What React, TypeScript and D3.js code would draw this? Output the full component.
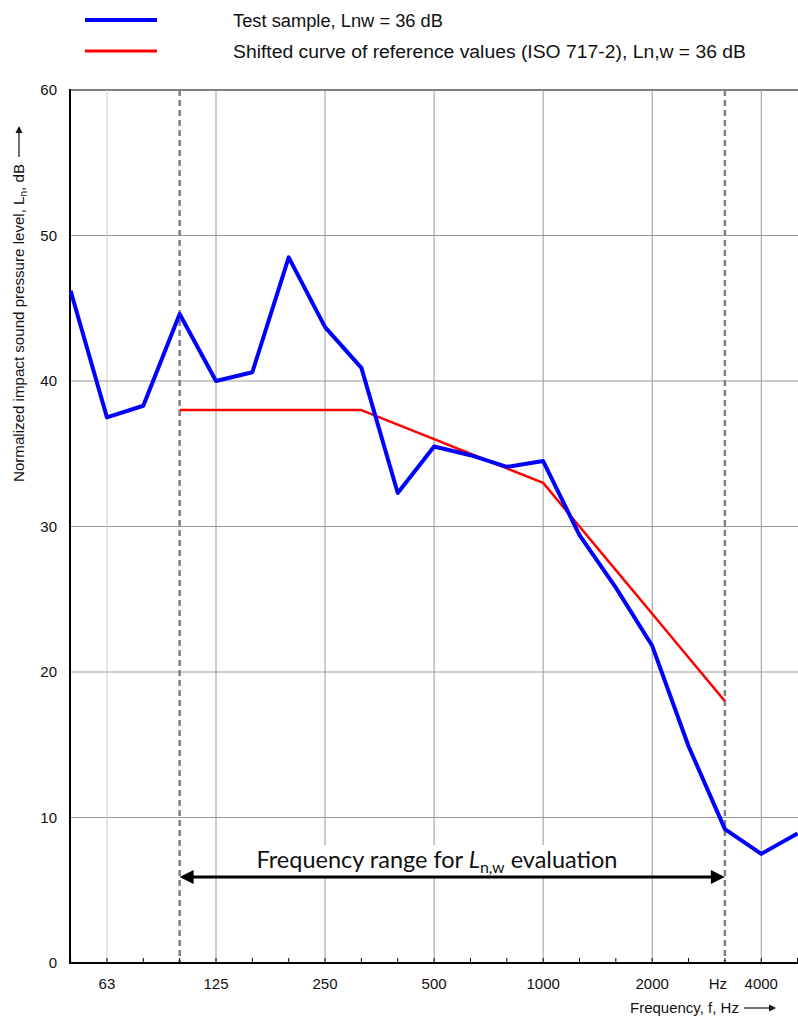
import React from 'react'
import * as d3 from 'd3'

// 1/3 octave bands 50 Hz .. 5000 Hz
const bands = [50, 63, 80, 100, 125, 160, 200, 250, 315, 400, 500, 630, 800, 1000, 1250, 1600, 2000, 2500, 3150, 4000, 5000]
const testSample = [46.2, 37.5, 38.3, 44.6, 40.0, 40.6, 48.5, 43.7, 40.9, 32.3, 35.5, 34.9, 34.1, 34.5, 29.4, 25.8, 21.8, 14.9, 9.2, 7.5, 8.9]
const refBands = [100, 125, 160, 200, 250, 315, 400, 500, 630, 800, 1000, 1250, 1600, 2000, 2500, 3150]
const refShifted = [38, 38, 38, 38, 38, 38, 37, 36, 35, 34, 33, 30, 27, 24, 21, 18]
const xLabels = [
  { band: 63, text: '63' },
  { band: 125, text: '125' },
  { band: 250, text: '250' },
  { band: 500, text: '500' },
  { band: 1000, text: '1000' },
  { band: 2000, text: '2000' },
  { band: 3150, text: 'Hz' },
  { band: 4000, text: '4000' },
]
const gridBands = [63, 125, 250, 500, 1000, 2000, 4000]
const rangeBands = [100, 3150]
const yTicks = [0, 10, 20, 30, 40, 50, 60]

const W = 798
const H = 1017
const font = '"Liberation Sans", Arial, "DejaVu Sans", sans-serif'

export default function App() {
  const x = d3.scaleLinear().domain([0, bands.length - 1]).range([70.6, 797.6])
  const xb = (f: number) => x(bands.indexOf(f))
  const y = d3.scaleLinear().domain([0, 60]).range([963, 90])

  const line = d3.line<[number, number]>().x(d => xb(d[0])).y(d => y(d[1]))
  const bluePath = line(bands.map((b, i) => [b, testSample[i]]))
  const redPath = line(refBands.map((b, i) => [b, refShifted[i]]))

  const arrowY = 877
  const ax0 = xb(rangeBands[0])
  const ax1 = xb(rangeBands[1])

  return (
    <svg width={W} height={H} style={{ position: 'absolute', left: 0, top: 0, background: '#fff' }} fontFamily={font}>
      {/* legend */}
      <line x1={85} x2={157} y1={20} y2={20} stroke="#0000ff" strokeWidth={4} />
      <text x={233} y={27} fontSize={18} fill="#111" textLength={210} lengthAdjust="spacingAndGlyphs">Test sample, Lnw = 36 dB</text>
      <line x1={85} x2={157} y1={51} y2={51} stroke="#ff0000" strokeWidth={3} />
      <text x={233} y={58} fontSize={18} fill="#111" textLength={513} lengthAdjust="spacingAndGlyphs">Shifted curve of reference values (ISO 717-2), Ln,w = 36 dB</text>

      {/* horizontal grid */}
      {yTicks.filter(t => t > 0).map(t => (
        <line key={t} x1={70} x2={W} y1={y(t)} y2={y(t)} stroke={t === 60 ? '#808080' : '#999'} strokeWidth={t === 60 ? 2 : 1} />
      ))}
      {/* vertical grid at octave bands */}
      {gridBands.map(b => (
        <line key={b} x1={xb(b)} x2={xb(b)} y1={y(60)} y2={y(0)} stroke={b === 63 ? '#ccc' : '#999'} strokeWidth={1} />
      ))}

      {/* white box behind annotation */}
      <rect x={245} y={845} width={385} height={31} fill="#fff" />

      {/* evaluation range borders */}
      {rangeBands.map(b => (
        <line key={b} x1={xb(b)} x2={xb(b)} y1={y(60)} y2={y(0)} stroke="#808080" strokeWidth={2.5} strokeDasharray="6,4" />
      ))}

      {/* bottom ticks */}
      {bands.map(b => (
        <line key={b} x1={xb(b)} x2={xb(b)} y1={y(0)} y2={y(0) - 5} stroke="#000" strokeWidth={1} />
      ))}

      {/* axes */}
      <line x1={70} x2={70} y1={y(60) - 1} y2={y(0) + 1} stroke="#000" strokeWidth={2} />
      <line x1={69} x2={W} y1={y(0)} y2={y(0)} stroke="#000" strokeWidth={2} />

      {/* series */}
      <path d={redPath ?? ''} fill="none" stroke="#ff0000" strokeWidth={2.5} strokeLinejoin="round" />
      <path d={bluePath ?? ''} fill="none" stroke="#0000ff" strokeWidth={4} strokeLinejoin="round" />

      {/* y tick labels */}
      {yTicks.map(t => (
        <text key={t} x={57} y={y(t) + 5} fontSize={15} textAnchor="end" fill="#111">{t}</text>
      ))}
      {/* x tick labels */}
      {xLabels.map(l => (
        <text key={l.text} x={xb(l.band) + (l.text === 'Hz' ? -7 : 0)} y={989} fontSize={15} textAnchor="middle" fill="#111">{l.text}</text>
      ))}

      {/* axis titles */}
      <text transform="translate(24,482) rotate(-90)" fontSize={15} fill="#111" textLength={318} lengthAdjust="spacingAndGlyphs">
        Normalized impact sound pressure level, L<tspan fontSize={10} dy={3}>n</tspan><tspan dy={-3}>, dB</tspan>
      </text>
      <line x1={19} x2={19} y1={157} y2={129} stroke="#111" strokeWidth={1.2} />
      <path d="M19,126 l-3.5,7 l7,0 Z" fill="#111" />

      <text x={630} y={1013} fontSize={15} fill="#111">Frequency, f, Hz</text>
      <line x1={744} x2={774} y1={1008} y2={1008} stroke="#111" strokeWidth={1.2} />
      <path d="M776,1008 l-7,-3.5 l0,7 Z" fill="#111" />

      {/* range annotation */}
      <line x1={ax0 + 12} x2={ax1 - 12} y1={arrowY} y2={arrowY} stroke="#000" strokeWidth={3} />
      <path d={`M${ax0},${arrowY} l14,-7 l0,14 Z`} fill="#000" />
      <path d={`M${ax1},${arrowY} l-14,-7 l0,14 Z`} fill="#000" />
      <text x={437} y={868} fontSize={23.5} textAnchor="middle" fontFamily='Lato, "Open Sans", sans-serif' fill="#111">
        Frequency range for <tspan fontStyle="italic">L</tspan><tspan fontSize={16} dy={5}>n,w</tspan><tspan dy={-5}> evaluation</tspan>
      </text>
    </svg>
  )
}
